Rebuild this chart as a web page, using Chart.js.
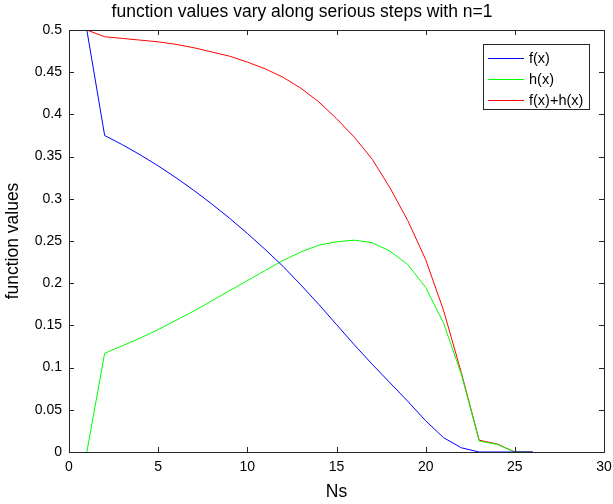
<!DOCTYPE html>
<html>
<head>
<meta charset="utf-8">
<script src="https://cdn.jsdelivr.net/npm/chart.js@4/dist/chart.umd.min.js"></script>
<style>
html,body{margin:0;padding:0;background:#fff;}
#wrap{width:613px;height:504px;}
</style>
</head>
<body>
<div id="wrap"><canvas id="c" width="613" height="504"></canvas></div>
<script>
const titleText = 'function values vary along serious steps with n=1';
const xLabel = 'Ns';
const yLabel = 'function values';
const steps = [1,2,3,4,5,6,7,8,9,10,11,12,13,14,15,16,17,18,19,20,21,22,23,24,25,26];
const fValues = [0.5,0.375,0.364,0.352,0.339,0.325,0.310,0.294,0.277,0.259,0.240,0.220,0.198,0.175,0.151,0.127,0.104,0.082,0.060,0.037,0.017,0.005,0,0,0,0];
const hValues = [0,0.117,0.126,0.135,0.145,0.156,0.167,0.179,0.191,0.203,0.215,0.227,0.237,0.245,0.249,0.251,0.248,0.238,0.222,0.195,0.153,0.092,0.013,0.009,0,0];
const sumValues = [0.5,0.492,0.490,0.488,0.486,0.483,0.479,0.474,0.469,0.462,0.454,0.444,0.431,0.415,0.395,0.373,0.347,0.313,0.274,0.228,0.168,0.094,0.014,0.0095,0,0];
const seriesLabels = ['f(x)','h(x)','f(x)+h(x)'];
const seriesColors = ['#0000ff','#00ff00','#ff0000'];
const xTicks = [0,5,10,15,20,25,30];
const xTickLabels = ['0','5','10','15','20','25','30'];
const yTicks = [0,0.05,0.1,0.15,0.2,0.25,0.3,0.35,0.4,0.45,0.5];
const yTickLabels = ['0','0.05','0.1','0.15','0.2','0.25','0.3','0.35','0.4','0.45','0.5'];

const FONT = 'Liberation Sans, Arial, Helvetica, sans-serif';
const AXIS_COLOR = '#262626';

function pts(vals){ return steps.map((s,i)=>({x:s,y:vals[i]})); }

const frameTicks = {
  id:'frameTicks',
  afterDatasetsDraw(chart){
    const {ctx, chartArea:a, scales:{x,y}} = chart;
    ctx.save();
    ctx.strokeStyle = AXIS_COLOR;
    ctx.lineWidth = 1;
    ctx.beginPath();
    const L = 5;
    xTicks.forEach(v=>{
      const px = Math.round(x.getPixelForValue(v))+0.5;
      ctx.moveTo(px,a.bottom); ctx.lineTo(px,a.bottom-L);
      ctx.moveTo(px,a.top); ctx.lineTo(px,a.top+L);
    });
    yTicks.forEach(v=>{
      const py = Math.round(y.getPixelForValue(v))+0.5;
      ctx.moveTo(a.left,py); ctx.lineTo(a.left+L,py);
      ctx.moveTo(a.right,py); ctx.lineTo(a.right-L,py);
    });
    ctx.stroke();
    ctx.strokeRect(Math.round(a.left)+0.5, Math.round(a.top)+0.5, Math.round(a.right-a.left), Math.round(a.bottom-a.top));
    // legend box
    const bx = 483.5, by = 44.5, bw = 106, bh = 65;
    ctx.fillStyle = '#fff';
    ctx.fillRect(bx,by,bw,bh);
    ctx.strokeStyle = AXIS_COLOR;
    ctx.strokeRect(bx,by,bw,bh);
    ctx.font = '14.5px ' + FONT;
    ctx.textBaseline = 'middle';
    ctx.textAlign = 'left';
    chart.data.datasets.forEach((ds,i)=>{
      const ly = 58.5 + i*21;
      ctx.strokeStyle = ds.borderColor;
      ctx.beginPath();
      ctx.moveTo(488,ly); ctx.lineTo(524,ly);
      ctx.stroke();
      ctx.fillStyle = '#000';
      ctx.fillText(ds.label, 529, ly);
    });
    ctx.restore();
  }
};

new Chart(document.getElementById('c'), {
  type:'line',
  data:{
    datasets:[
      {label:seriesLabels[0], data:pts(fValues), borderColor:seriesColors[0], borderWidth:1, pointRadius:0, tension:0, fill:false},
      {label:seriesLabels[1], data:pts(hValues), borderColor:seriesColors[1], borderWidth:1, pointRadius:0, tension:0, fill:false},
      {label:seriesLabels[2], data:pts(sumValues), borderColor:seriesColors[2], borderWidth:1, pointRadius:0, tension:0, fill:false}
    ]
  },
  plugins:[frameTicks],
  options:{
    responsive:false,
    animation:false,
    devicePixelRatio:1,
    layout:{padding:{left:0,right:9,top:0,bottom:0}},
    plugins:{
      legend:{display:false},
      tooltip:{enabled:false},
      title:{display:true, text:titleText, color:'#000', font:{family:FONT, size:17.5, weight:'normal'}, padding:{top:2,bottom:7}}
    },
    scales:{
      x:{
        type:'linear', min:0, max:30,
        afterBuildTicks(s){ s.ticks = xTicks.map(v=>({value:v})); },
        afterFit(s){ s.height = 52; s.paddingLeft = 0; s.paddingRight = 0; },
        grid:{display:false, drawTicks:false},
        border:{display:false},
        ticks:{color:'#000', padding:7, font:{family:FONT,size:14}, callback:(v,i)=>xTickLabels[i], maxRotation:0},
        title:{display:true, text:xLabel, color:'#000', font:{family:FONT,size:17.5}, padding:{top:0,bottom:1}}
      },
      y:{
        type:'linear', min:0, max:0.5,
        afterBuildTicks(s){ s.ticks = yTicks.map(v=>({value:v})); },
        afterFit(s){ s.width = 69; s.paddingTop = 0; s.paddingBottom = 0; },
        grid:{display:false, drawTicks:false},
        border:{display:false},
        ticks:{color:'#000', padding:7, font:{family:FONT,size:14}, callback:(v,i)=>yTickLabels[i]},
        title:{display:true, text:yLabel, color:'#000', font:{family:FONT,size:17.5}, padding:{top:3,bottom:0}}
      }
    }
  }
});
</script>
</body>
</html>
